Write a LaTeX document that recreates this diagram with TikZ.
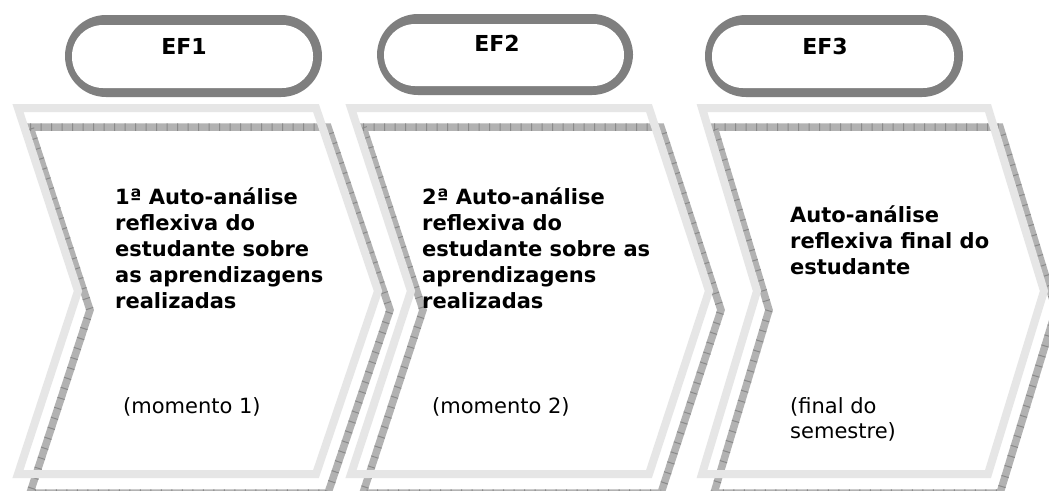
\documentclass[tikz,border=0pt]{standalone}
\usepackage{fontspec}
\setmainfont{DejaVu Sans}
\definecolor{lightband}{HTML}{E6E6E6}
\definecolor{hatchbase}{HTML}{B2B2B2}
\definecolor{hatchtick}{HTML}{8A8A8A}
\definecolor{pillgray}{HTML}{7F7F7F}
\tikzset{
  lightline/.style={draw=lightband, line width=8pt, line join=miter},
  hatchline/.style={draw=hatchbase, line width=7.5pt, line join=miter},
  hatchticks/.style={draw=hatchtick, line width=7.5pt, dash pattern=on 1pt off 9.5pt},
  pillouter/.style={fill=pillgray, rounded corners=41pt},
  pillinner/.style={fill=white, rounded corners=31pt},
  eflabel/.style={font=\bfseries\fontsize{22}{26}\selectfont, inner sep=0pt, anchor=base},
  boldline/.style={font=\bfseries\fontsize{21}{26}\selectfont, inner sep=0pt, anchor=base west},
  normline/.style={font=\fontsize{21}{26}\selectfont, inner sep=0pt, anchor=base west}
}
\begin{document}
\begin{tikzpicture}[x=1pt, y=-1pt]
\useasboundingbox (0,0) rectangle (1049,490);
\clip (0,0) rectangle (1049,490);
\fill[white] (0,0) rectangle (1049,490);

% pills
\fill[pillouter] (65,15) rectangle (322,97);
\fill[pillinner] (72,25) rectangle (313,88);
\fill[pillouter] (377,14) rectangle (633,95);
\fill[pillinner] (384,24) rectangle (624,86);
\fill[pillouter] (705,15) rectangle (963,97);
\fill[pillinner] (712,25) rectangle (954,88);
\node[eflabel] (ef1) at (184,54) {EF1};
\node[eflabel] (ef2) at (497,51) {EF2};
\node[eflabel] (ef3) at (825,54) {EF3};

% hatched outlines
\foreach \dx/\w/\t in {0/298/62, 333/298/60} {
  \path[hatchline] (30+\dx,127) -- (30+\dx+\w,127) -- (30+\dx+\w+\t,310) -- (30+\dx+\w,493) -- (30+\dx,493) -- (90+\dx,310) -- cycle;
  \path[hatchticks] (30+\dx,127) -- (30+\dx+\w,127) -- (30+\dx+\w+\t,310) -- (30+\dx+\w,493) -- (30+\dx,493) -- (90+\dx,310) -- cycle;
}
\path[hatchline] (714,127) -- (1000,127) -- (1056,310) -- (1000,493) -- (714,493) -- (769,310) -- cycle;
\path[hatchticks] (714,127) -- (1000,127) -- (1056,310) -- (1000,493) -- (714,493) -- (769,310) -- cycle;

% light outlines
\path[lightline] (18,108) -- (316,108) -- (378,291) -- (316,474) -- (18,474) -- (78,291) -- cycle;
\path[lightline] (351,108) -- (649,108) -- (709,291) -- (649,474) -- (351,474) -- (411,291) -- cycle;
\path[lightline] (702,108) -- (988,108) -- (1044,291) -- (988,474) -- (702,474) -- (757,291) -- cycle;

% texts chevron 1
\node[boldline] (a1) at (115,204) {1ª Auto-análise};
\node[boldline] (a2) at (115,230) {reflexiva do};
\node[boldline] (a3) at (115,256) {estudante sobre};
\node[boldline] (a4) at (115,282) {as aprendizagens};
\node[boldline] (a5) at (115,308) {realizadas};
\node[normline] (am) at (123,413) {(momento 1)};

% texts chevron 2
\node[boldline] (b1) at (422,204) {2ª Auto-análise};
\node[boldline] (b2) at (422,230) {reflexiva do};
\node[boldline] (b3) at (422,256) {estudante sobre as};
\node[boldline] (b4) at (422,282) {aprendizagens};
\node[boldline] (b5) at (422,308) {realizadas};
\node[normline] (bm) at (432,413) {(momento 2)};

% texts chevron 3
\node[boldline] (c1) at (790,222) {Auto-análise};
\node[boldline] (c2) at (790,248) {reflexiva final do};
\node[boldline] (c3) at (790,274) {estudante};
\node[normline] (cm1) at (790,413) {(final do};
\node[normline] (cm2) at (790,438) {semestre)};
\end{tikzpicture}
\end{document}
